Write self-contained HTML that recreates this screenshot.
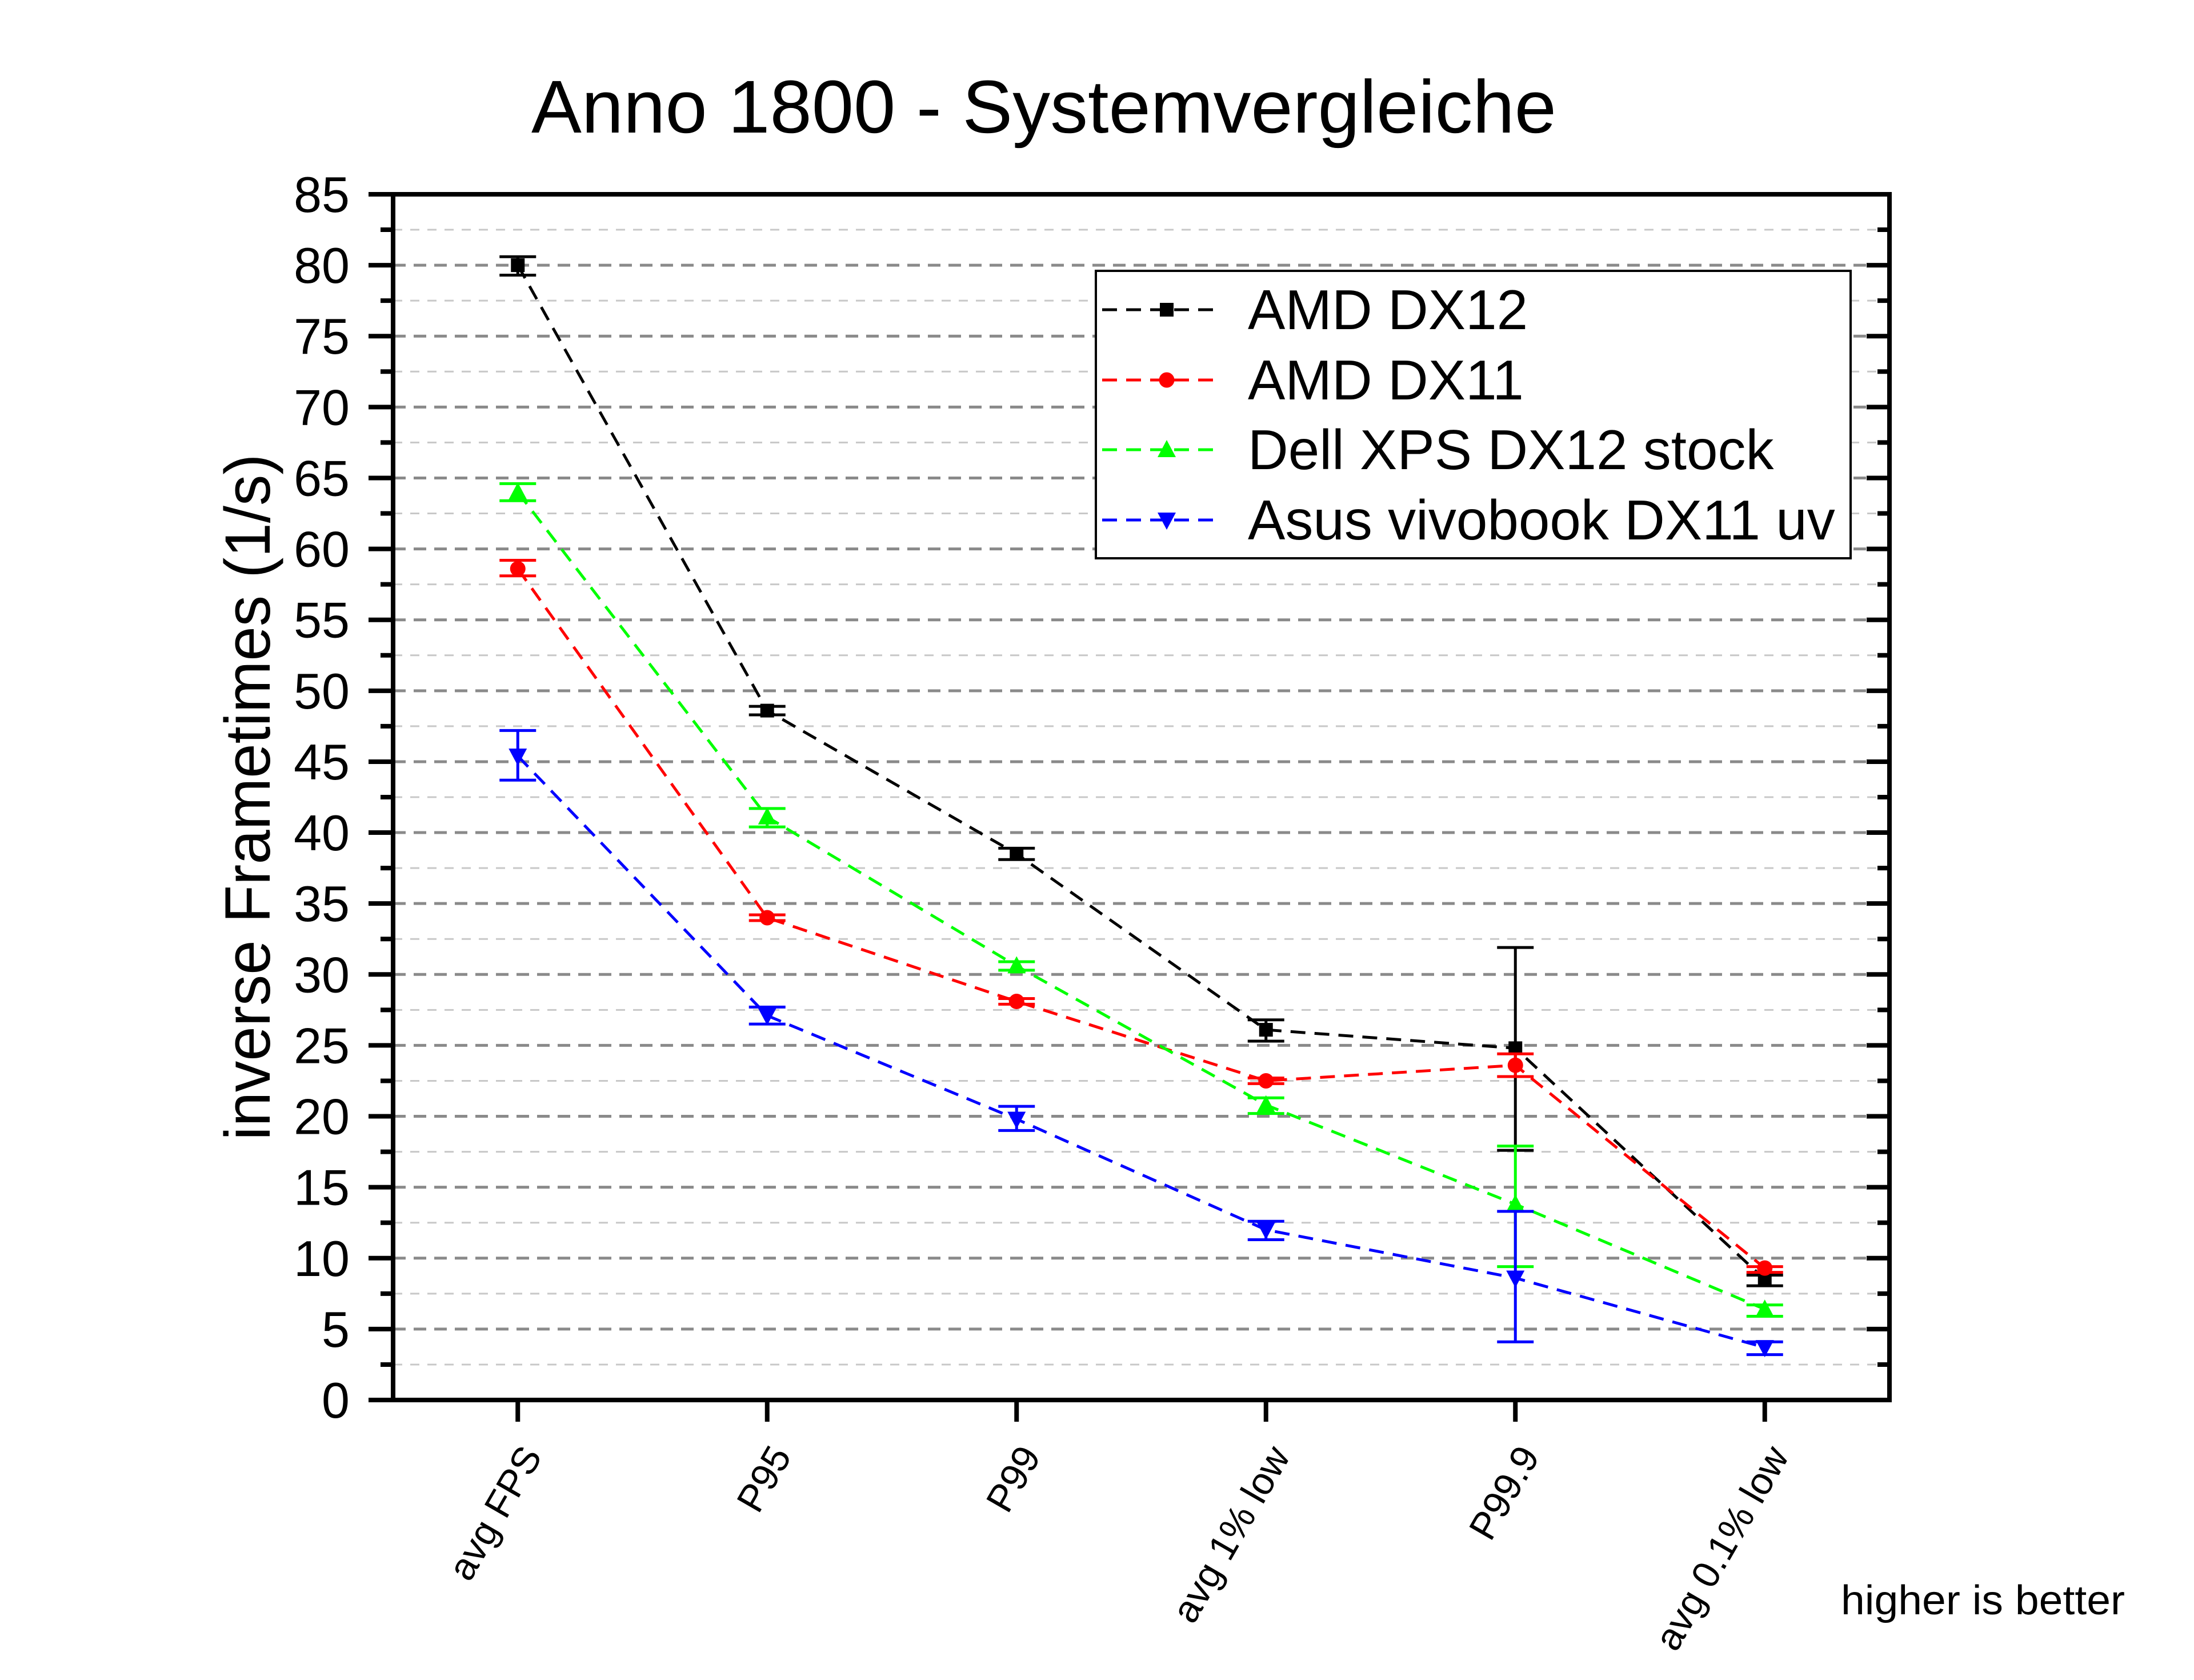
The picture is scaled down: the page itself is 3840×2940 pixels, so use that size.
<!DOCTYPE html>
<html><head><meta charset="utf-8"><style>
html,body{margin:0;padding:0;background:#fff;}
svg{display:block;font-family:"Liberation Sans",Arial,sans-serif;}
</style></head><body>
<svg id="chart" width="3840" height="2940" viewBox="0 0 3840 2940" xmlns="http://www.w3.org/2000/svg">
<rect width="3840" height="2940" fill="#fff"/>
<text x="1827" y="232" font-size="131" text-anchor="middle" textLength="1794" lengthAdjust="spacingAndGlyphs">Anno 1800 - Systemvergleiche</text>
<g id="grid"></g>
<g id="series"></g>
<g id="axes"></g>
<text transform="translate(472,1395) rotate(-90)" font-size="112" text-anchor="middle" textLength="1201" lengthAdjust="spacingAndGlyphs">inverse Frametimes (1/s)</text>
<text x="3719" y="2825" font-size="72" text-anchor="end" textLength="497" lengthAdjust="spacingAndGlyphs">higher is better</text>
<g id="legend"></g>
</svg>
<script>
const categories = ["avg FPS","P95","P99","avg 1% low","P99.9","avg 0.1% low"];
const seriesNames = ["AMD DX12","AMD DX11","Dell XPS DX12 stock","Asus vivobook DX11 uv"];
const amdDx12 = [80.0,48.6,38.5,26.1,24.8,8.5];
const amdDx12Hi = [80.6,48.9,38.9,26.8,31.9,8.8];
const amdDx12Lo = [79.3,48.3,38.1,25.3,17.6,8.05];
const amdDx11 = [58.6,34.0,28.1,22.5,23.6,9.3];
const amdDx11Hi = [59.2,34.2,28.3,22.7,24.4,9.4];
const amdDx11Lo = [58.1,33.8,27.9,22.3,22.8,9.0];
const dellXps = [64.0,41.1,30.6,20.8,13.8,6.4];
const dellXpsHi = [64.6,41.7,30.9,21.3,17.9,6.7];
const dellXpsLo = [63.4,40.4,30.3,20.2,9.4,5.9];
const asusVivo = [45.4,27.1,19.8,12.0,8.6,3.7];
const asusVivoHi = [47.2,27.7,20.7,12.6,13.3,4.1];
const asusVivoLo = [43.7,26.5,19.0,11.3,4.1,3.2];
const yTicks = [0,5,10,15,20,25,30,35,40,45,50,55,60,65,70,75,80,85];

const NS="http://www.w3.org/2000/svg";
const L=688,R=3307,T=340,B=2450;
const xs=i=>L+(i+0.5)*(R-L)/categories.length;
const ys=v=>B-v*(B-T)/85;
function mk(tag,attrs,parent){const e=document.createElementNS(NS,tag);for(const k in attrs)e.setAttribute(k,attrs[k]);parent.appendChild(e);return e;}
const grid=document.getElementById('grid'),axes=document.getElementById('axes'),ser=document.getElementById('series'),leg=document.getElementById('legend');

for(let v=2.5;v<85;v+=2.5){
  const major=(v%5===0);
  const g=mk('line',{x1:L,x2:R,y1:ys(v),y2:ys(v),stroke:major?'#8a8a8a':'#c8c8c8','stroke-width':major?5:3,'stroke-dasharray':major?'22 14':'16 14'},grid);
  
  
}
for(let v=0;v<=85;v+=2.5){
  const major=(v%5===0);
  const t=mk('line',{x1:L-(major?43:22),x2:L,y1:ys(v),y2:ys(v),stroke:'#000','stroke-width':8},axes);
  
  
  if(v>0&&v<85){
    const t2=mk('line',{x1:R-(major?40:21),x2:R,y1:ys(v),y2:ys(v),stroke:'#000','stroke-width':8},axes);
    
    
  }
}
yTicks.forEach(v=>{
  const tx=mk('text',{x:612,y:ys(v)+31,'font-size':88,'text-anchor':'end'},axes);
  tx.textContent=v;
  
  
});
const fr=mk('rect',{x:L,y:T,width:R-L,height:B-T,fill:'none',stroke:'#000','stroke-width':8},axes);


categories.forEach((c,i)=>{
  const x=xs(i);
  const t=mk('line',{x1:x,x2:x,y1:B,y2:B+38,stroke:'#000','stroke-width':8},axes);
  
  
  const tx=mk('text',{transform:`translate(${x+44},2548) rotate(-60)`,'font-size':67,'text-anchor':'end'},axes);
  tx.textContent=c;
  
  
});

function marker(kind,x,y,col,parent,s){
  s=s||1;let m;
  if(kind==='square') m=mk('rect',{x:x-12*s,y:y-12*s,width:24*s,height:24*s,fill:col},parent);
  else if(kind==='circle') m=mk('circle',{cx:x,cy:y,r:13.5*s,fill:col},parent);
  else if(kind==='up') m=mk('polygon',{points:`${x},${y-17*s} ${x-16*s},${y+13*s} ${x+16*s},${y+13*s}`,fill:col},parent);
  else m=mk('polygon',{points:`${x},${y+17*s} ${x-16*s},${y-13*s} ${x+16*s},${y-13*s}`,fill:col},parent);
  return m;
}
const defs=[
  {vals:amdDx12,hi:amdDx12Hi,lo:amdDx12Lo,col:'#000',m:'square',key:'amd-dx12'},
  {vals:amdDx11,hi:amdDx11Hi,lo:amdDx11Lo,col:'#ff0000',m:'circle',key:'amd-dx11'},
  {vals:dellXps,hi:dellXpsHi,lo:dellXpsLo,col:'#00ff00',m:'up',key:'dell-xps'},
  {vals:asusVivo,hi:asusVivoHi,lo:asusVivoLo,col:'#0000ff',m:'down',key:'asus-vivobook'}
];
defs.forEach(d=>{
  const g=mk('g',{},ser);
  
  
  const pl=mk('polyline',{points:d.vals.map((v,i)=>xs(i)+','+ys(v)).join(' '),fill:'none',stroke:d.col,'stroke-width':5,'stroke-dasharray':'26 16'},g);
  
  
  d.vals.forEach((v,i)=>{
    const x=xs(i);
    const eb=mk('path',{d:`M${x},${ys(d.lo[i])}V${ys(d.hi[i])}M${x-32},${ys(d.hi[i])}H${x+32}M${x-32},${ys(d.lo[i])}H${x+32}`,stroke:d.col,'stroke-width':5,fill:'none'},g);
    
    
    const m=marker(d.m,x,ys(v),d.col,g);
    
    
  });
});
const lb=mk('rect',{x:1918,y:474,width:1321,height:503,fill:'#fff',stroke:'#000','stroke-width':4},leg);


const ly=[542,665,787,910];
defs.forEach((d,i)=>{
  const g=mk('g',{},leg);
  
  
  mk('line',{x1:1929,x2:2135,y1:ly[i],y2:ly[i],stroke:d.col,'stroke-width':5,'stroke-dasharray':'26 16'},g);
  marker(d.m,2042,ly[i],d.col,g,1.0);
  const t=mk('text',{x:2184,y:ly[i]+34,'font-size':98},g);
  t.textContent=seriesNames[i];
});
</script>
</body></html>
